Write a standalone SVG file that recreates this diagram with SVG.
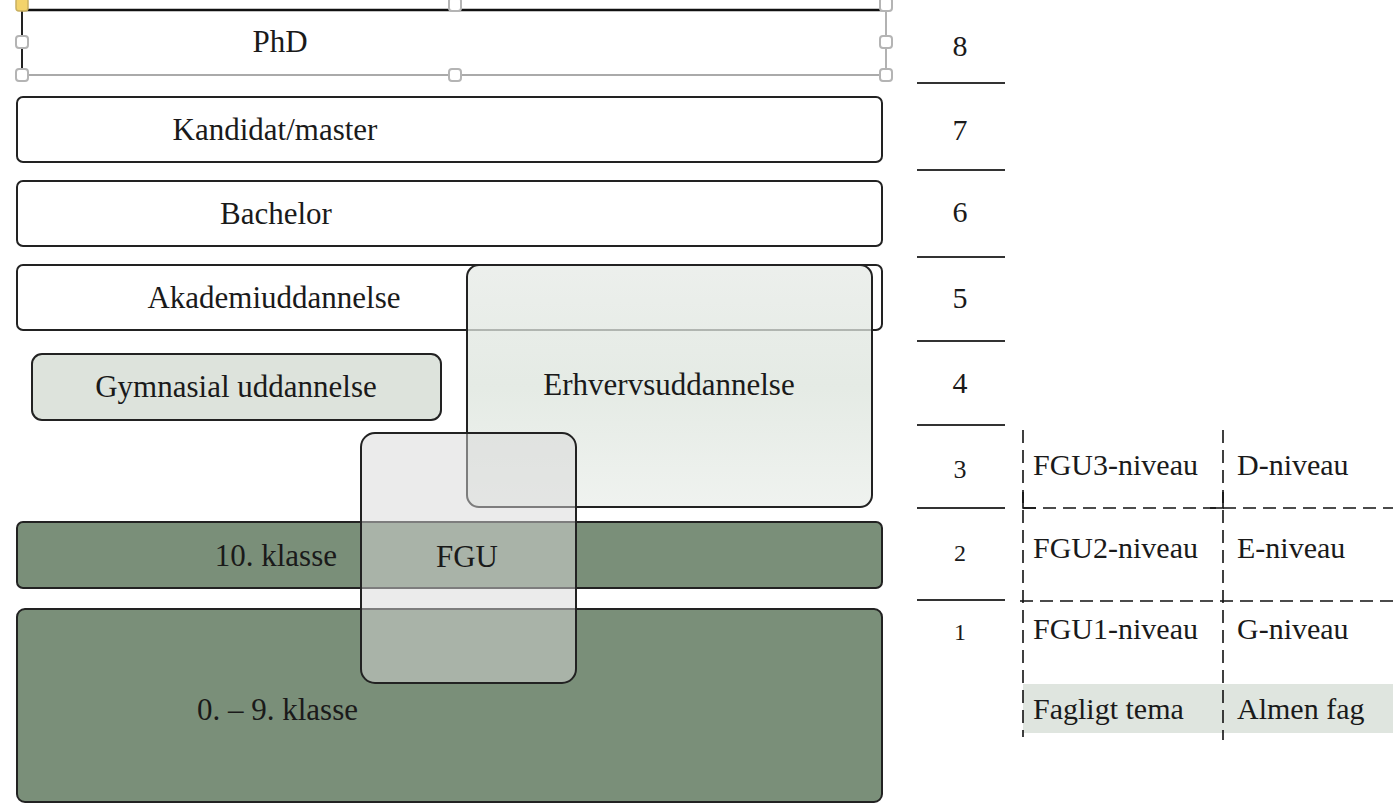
<svg xmlns="http://www.w3.org/2000/svg" width="1393" height="804" viewBox="0 0 1393 804">
<defs>
<linearGradient id="gErh" x1="0" y1="0" x2="0" y2="1">
<stop offset="0" stop-color="#e6eae6"/>
<stop offset="0.5" stop-color="#dce4dc"/>
<stop offset="1" stop-color="#eaeeea"/>
</linearGradient>
<style>
text{font-family:"Liberation Serif","Times New Roman",serif;fill:#1a1a1a}
.lbl{font-size:31px;text-anchor:middle}
.num{font-size:30px;text-anchor:middle}
.tbl{font-size:30px}
.box{stroke:#222;stroke-width:2}
.white{fill:#fff}
.green{fill:#7a8f79}
.handle{fill:#fff;stroke:#b4b4b4;stroke-width:2}
.rule{stroke:#333;stroke-width:2}
.dash{stroke:#111;stroke-width:1.6;stroke-dasharray:13 7;fill:none}
</style>
</defs>
<rect width="1393" height="804" fill="#fff"/>

<g id="phd">
<rect x="22" y="10" width="864" height="65" fill="#fff"/>
<line x1="22" y1="10" x2="886" y2="10" stroke="#111" stroke-width="2.5"/>
<line x1="22" y1="75" x2="886" y2="75" stroke="#aaa" stroke-width="2"/>
<line x1="22" y1="10" x2="22" y2="75" stroke="#222" stroke-width="2"/>
<line x1="886" y1="10" x2="886" y2="75" stroke="#999" stroke-width="1.5"/>
<rect x="16" y="-2" width="12" height="13" rx="3" fill="#f3d36b" stroke="#c9b060" stroke-width="1.5"/>
<rect class="handle" x="16" y="36" width="12" height="12" rx="3"/>
<rect class="handle" x="16" y="69" width="12" height="12" rx="3"/>
<rect class="handle" x="449" y="-2" width="12" height="13" rx="3"/>
<rect class="handle" x="449" y="69" width="12" height="12" rx="3"/>
<rect class="handle" x="880" y="-2" width="12" height="13" rx="3"/>
<rect class="handle" x="880" y="36" width="12" height="12" rx="3"/>
<rect class="handle" x="880" y="69" width="12" height="12" rx="3"/>
<text class="lbl" x="280" y="52">PhD</text>
</g>

<g id="kandidat">
<rect class="box white" x="17" y="97" width="865" height="65" rx="6"/>
<text class="lbl" x="275" y="140">Kandidat/master</text>
</g>

<g id="bachelor">
<rect class="box white" x="17" y="181" width="865" height="65" rx="6"/>
<text class="lbl" x="276" y="224">Bachelor</text>
</g>

<g id="akademi">
<rect class="box white" x="17" y="265" width="865" height="65" rx="6"/>
<text class="lbl" x="274" y="308">Akademiuddannelse</text>
</g>

<g id="gymnasial">
<rect class="box" x="32" y="354" width="409" height="66" rx="10" fill="#dde3dc"/>
<text class="lbl" x="236" y="397">Gymnasial uddannelse</text>
</g>

<g id="erhverv">
<rect class="box" x="467" y="265" width="405" height="242" rx="12" fill="url(#gErh)" fill-opacity="0.75"/>
<text class="lbl" x="669" y="395">Erhvervsuddannelse</text>
</g>

<g id="klasse10">
<rect class="box green" x="17" y="522" width="865" height="66" rx="6"/>
<text class="lbl" x="337" y="566" style="text-anchor:end">10. klasse</text>
</g>

<g id="klasse09">
<rect class="box green" x="17" y="609" width="865" height="193" rx="8"/>
<text class="lbl" x="358" y="720" style="text-anchor:end">0. – 9. klasse</text>
</g>

<g id="fgu">
<rect class="box" x="361" y="433" width="215" height="250" rx="14" fill="#d7d7d7" fill-opacity="0.5"/>
<text class="lbl" x="467" y="567">FGU</text>
</g>

<g id="levels">
<line class="rule" x1="917" y1="83" x2="1005" y2="83"/>
<line class="rule" x1="917" y1="170" x2="1005" y2="170"/>
<line class="rule" x1="917" y1="257" x2="1005" y2="257"/>
<line class="rule" x1="917" y1="341" x2="1005" y2="341"/>
<line class="rule" x1="917" y1="425" x2="1005" y2="425"/>
<line class="rule" x1="917" y1="508" x2="1005" y2="508"/>
<line class="rule" x1="917" y1="600" x2="1005" y2="600"/>
<text class="num" x="960" y="56">8</text>
<text class="num" x="960" y="140">7</text>
<text class="num" x="960" y="222">6</text>
<text class="num" x="960" y="308">5</text>
<text class="num" x="960" y="393">4</text>
<text class="num" x="960" y="478" style="font-size:26px">3</text>
<text class="num" x="960" y="561" style="font-size:24px">2</text>
<text class="num" x="960" y="640" style="font-size:24px">1</text>
</g>

<g id="table">
<rect x="1023" y="684" width="370" height="49" fill="#dfe5df"/>
<line class="dash" x1="1023" y1="430" x2="1023" y2="737"/>
<line class="dash" x1="1223" y1="430" x2="1223" y2="740"/>
<line class="dash" x1="1023" y1="508" x2="1393" y2="508"/>
<line class="dash" x1="1020" y1="601" x2="1393" y2="601"/>
<path d="M1023 492 V508 H1036 M1210 508 H1223 V492" fill="none" stroke="#111" stroke-width="1.6"/>
<text class="tbl" x="1033" y="475">FGU3-niveau</text>
<text class="tbl" x="1237" y="475">D-niveau</text>
<text class="tbl" x="1033" y="558">FGU2-niveau</text>
<text class="tbl" x="1237" y="558">E-niveau</text>
<text class="tbl" x="1033" y="639">FGU1-niveau</text>
<text class="tbl" x="1237" y="639">G-niveau</text>
<text class="tbl" x="1033" y="719">Fagligt tema</text>
<text class="tbl" x="1237" y="719">Almen fag</text>
</g>
</svg>
